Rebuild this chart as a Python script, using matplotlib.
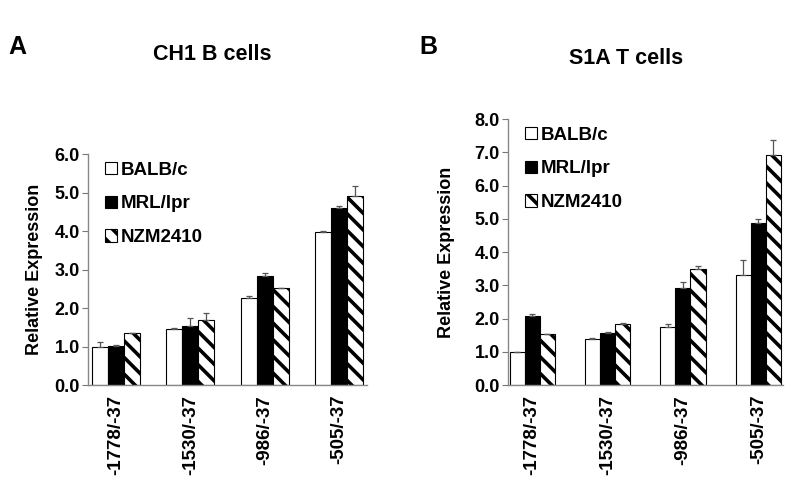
import matplotlib.pyplot as plt
import numpy as np

plt.rcParams['font.family'] = ['Liberation Sans', 'DejaVu Sans']
plt.rcParams['font.weight'] = 'bold'
plt.rcParams['axes.labelweight'] = 'bold'
plt.rcParams['hatch.linewidth'] = 2.6

regions = ['-1778/-37', '-1530/-37', '-986/-37', '-505/-37']
strains = ['BALB/c', 'MRL/lpr', 'NZM2410']

# panel A: CH1 B cells
b_cells = [1.00, 1.45, 2.25, 3.97]
b_cells_err = [0.12, 0.02, 0.05, 0.04]
m_cells = [1.02, 1.54, 2.84, 4.59]
m_cells_err = [0.02, 0.19, 0.06, 0.05]
n_cells = [1.34, 1.68, 2.51, 4.90]
n_cells_err = [0.01, 0.20, 0.00, 0.26]

# panel B: S1A T cells
b_t = [1.00, 1.39, 1.76, 3.32]
b_t_err = [0.00, 0.01, 0.08, 0.45]
m_t = [2.08, 1.56, 2.93, 4.87]
m_t_err = [0.07, 0.02, 0.16, 0.11]
n_t = [1.54, 1.84, 3.49, 6.93]
n_t_err = [0.00, 0.02, 0.08, 0.44]


def draw_panel(ax, series, errs, ymax, width, xlim, labelpad, leg_y):
    x = np.arange(len(regions))
    styles = [dict(color='white', hatch=None),
              dict(color='black', hatch=None),
              dict(color='white', hatch='\\\\')]
    for i, (vals, err, st) in enumerate(zip(series, errs, styles)):
        lower = np.zeros(len(err))
        ax.bar(x + (i - 1) * width, vals, width, color=st['color'],
               edgecolor='black', linewidth=0.8, hatch=st['hatch'],
               yerr=[lower, err], label=strains[i],
               error_kw=dict(ecolor='#555555', elinewidth=0.9, capsize=2.5,
                             capthick=0.9))
    ax.set_xlim(*xlim)
    ax.set_ylim(0, ymax)
    ticks = np.arange(0, ymax + 0.1, 1.0)
    ax.set_yticks(ticks)
    ax.set_yticklabels(['%.1f' % v for v in ticks], fontsize=13)
    ax.set_xticks(x)
    ax.set_xticklabels(regions, rotation=90, fontsize=13.5)
    ax.tick_params(axis='x', length=0, pad=7)
    ax.tick_params(axis='y', length=4, color='#777777', pad=2)
    for s in ['top', 'right']:
        ax.spines[s].set_visible(False)
    for s in ['left', 'bottom']:
        ax.spines[s].set_color('#888888')
        ax.spines[s].set_linewidth(1.0)
    ax.set_ylabel('Relative Expression', fontsize=13, labelpad=labelpad)
    ax.legend(loc='upper left', frameon=False, fontsize=13.5,
              handlelength=0.65, handleheight=0.65, handletextpad=0.2,
              labelspacing=0.9, borderaxespad=0,
              bbox_to_anchor=(0.035, leg_y))


fig = plt.figure(figsize=(8, 4.93), dpi=100)
ax1 = fig.add_axes([0.11, 0.219, 0.349, 0.4686])
ax2 = fig.add_axes([0.635, 0.219, 0.344, 0.5396])

draw_panel(ax1, [b_cells, m_cells, n_cells],
           [b_cells_err, m_cells_err, n_cells_err], 6.0, 0.215,
           (-0.377, 3.38), 8, 1.0)
draw_panel(ax2, [b_t, m_t, n_t], [b_t_err, m_t_err, n_t_err], 8.0, 0.2,
           (-0.32, 3.33), 14, 1.0)

fig.text(17 / 800, 1 - 47 / 493, 'A', fontsize=18, ha='center', va='center')
fig.text(428 / 800, 1 - 47 / 493, 'B', fontsize=18, ha='center', va='center')
fig.text(212 / 800, 1 - 55 / 493, 'CH1 B cells', fontsize=15.5, ha='center',
         va='center')
fig.text(626 / 800, 1 - 58 / 493, 'S1A T cells', fontsize=15.5, ha='center',
         va='center')

fig.savefig('out.png', dpi=100)
